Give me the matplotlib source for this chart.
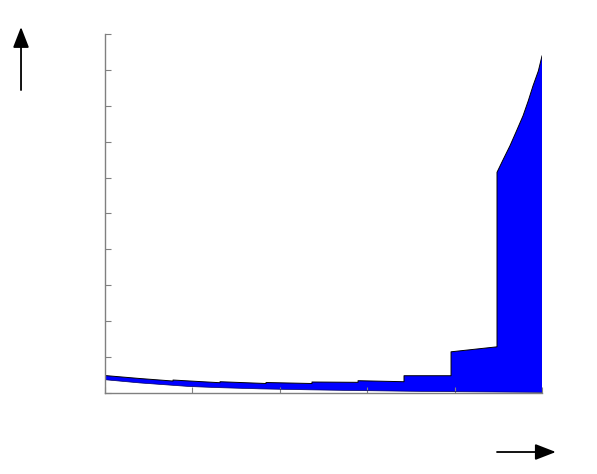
import matplotlib
matplotlib.use("Agg")
import matplotlib.pyplot as plt

# upper edge of the band (steps are repeated x values)
upper_x = [0, 0.40, 0.778, 0.778, 1.316, 1.316, 1.842, 1.842, 2.368, 2.368,
           2.895, 2.895, 3.421, 3.421, 3.959, 3.959, 4.485, 4.485,
           4.557, 4.634, 4.71, 4.783, 4.843, 4.897, 4.958, 5.0]
upper_y = [0.486, 0.403, 0.333, 0.361, 0.286, 0.314, 0.264, 0.292, 0.264, 0.306,
           0.297, 0.342, 0.314, 0.481, 0.481, 1.147, 1.286, 6.147,
           6.51, 6.889, 7.31, 7.722, 8.14, 8.556, 8.97, 9.389]

# lower edge of the band
lower_x = [0, 0.40, 0.97, 1.316, 1.773, 2.346, 2.918, 3.490, 4.062, 5.0]
lower_y = [0.37, 0.28, 0.18, 0.148, 0.115, 0.088, 0.067, 0.049, 0.035, 0.018]

x_ticks = [0, 1, 2, 3, 4, 5]
y_ticks = [0, 1, 2, 3, 4, 5, 6, 7, 8, 9, 10]

fig = plt.figure(figsize=(5.97, 4.74), dpi=100)
ax = fig.add_axes([0.1759, 0.1709, 0.7320, 0.7574])

poly_x = upper_x + lower_x[::-1]
poly_y = upper_y + lower_y[::-1]
ax.fill(poly_x, poly_y, facecolor=(0, 0, 1), edgecolor='none')
ax.plot(upper_x, upper_y, color='black', lw=0.7)
ax.plot(lower_x, lower_y, color='#000060', lw=0.5)

ax.set_xlim(0, 5)
ax.set_ylim(0, 10)
ax.set_xticks(x_ticks)
ax.set_yticks(y_ticks)
ax.set_xticklabels([])
ax.set_yticklabels([])
ax.tick_params(direction='in', length=4, color='#808080', width=0.8)
for side in ['top', 'right']:
    ax.spines[side].set_visible(False)
for side in ['left', 'bottom']:
    ax.spines[side].set_color('#808080')
    ax.spines[side].set_linewidth(1.0)

# axis arrows
arrow = dict(arrowstyle='-|>,head_length=0.9,head_width=0.35', color='black',
             lw=1.3, mutation_scale=14, shrinkA=0, shrinkB=0)
fig.add_artist(plt.Annotation('', xy=(0.0352, 0.943), xytext=(0.0352, 0.810),
                              xycoords='figure fraction', textcoords='figure fraction',
                              arrowprops=arrow))
fig.add_artist(plt.Annotation('', xy=(0.931, 0.0464), xytext=(0.8325, 0.0464),
                              xycoords='figure fraction', textcoords='figure fraction',
                              arrowprops=arrow))

fig.savefig("out.png", dpi=100)
